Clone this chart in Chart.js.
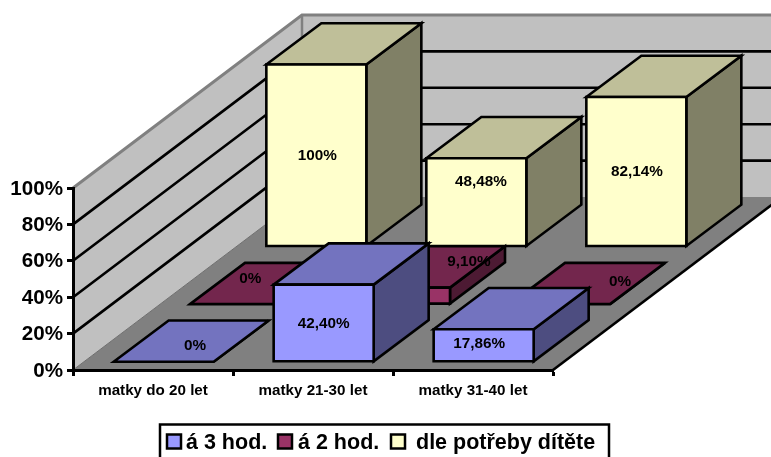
<!DOCTYPE html>
<html>
<head>
<meta charset="utf-8">
<title>Kojení</title>
<script src="https://cdn.jsdelivr.net/npm/chart.js@4"></script>
<style>
  html, body { margin: 0; padding: 0; background: #fff; }
  canvas { display: block; }
</style>
</head>
<body>
<canvas id="feedingChart" width="771" height="457"></canvas>
<script>
const categories = ['matky do 20 let', 'matky 21-30 let', 'matky 31-40 let'];
const every3Hours = [0, 42.40, 17.86];
const every2Hours = [0, 9.10, 0];
const onDemand = [100, 48.48, 82.14];
const yTicks = [0, 20, 40, 60, 80, 100];

// pseudo 3D settings, row 0 is the one closest to the viewer
const FLOOR_DEPTH = { x: 229, y: -173 };
const ROW_STEP = { x: FLOOR_DEPTH.x / 3, y: FLOOR_DEPTH.y / 3 };
const BOX_DEPTH = { x: 55, y: -41.3 };
const ROW_GAP = { x: (ROW_STEP.x - BOX_DEPTH.x) / 2, y: (ROW_STEP.y - BOX_DEPTH.y) / 2 };
const EDGE = 2.6;

const FONT_FAMILY = '"Liberation Sans", Arial, sans-serif';
const LABEL_FONT = `bold 15.3px ${FONT_FAMILY}`;
const LEGEND_FONT = `bold 21.5px ${FONT_FAMILY}`;

// labels were dragged by hand in the chart, [dx, dy] from the middle of the front face
const labelShift = [
  [[31.5, -16], [0, 1], [-4.5, -1.7]],
  [[10.2, -25.3], [69, -34], [60, -22.6]],
  [[1, 1], [4.5, -20.5], [0.5, 0]],
];

function shade(hex, factor) {
  const n = parseInt(hex.slice(1), 16);
  const c = [n >> 16, (n >> 8) & 255, n & 255].map(v => Math.round(v * factor));
  return `rgb(${c[0]},${c[1]},${c[2]})`;
}

function poly(ctx, pts, fill, stroke, width) {
  ctx.beginPath();
  pts.forEach((p, i) => (i ? ctx.lineTo(p[0], p[1]) : ctx.moveTo(p[0], p[1])));
  ctx.closePath();
  if (fill) {
    ctx.fillStyle = fill;
    ctx.fill();
  }
  if (stroke) {
    ctx.strokeStyle = stroke;
    ctx.lineWidth = width;
    ctx.lineJoin = 'miter';
    ctx.stroke();
  }
}

function line(ctx, pts, color, width) {
  ctx.beginPath();
  pts.forEach((p, i) => (i ? ctx.lineTo(p[0], p[1]) : ctx.moveTo(p[0], p[1])));
  ctx.strokeStyle = color;
  ctx.lineWidth = width;
  ctx.stroke();
}

function formatValue(v) {
  if (v === 0 || v === 100) return v + '%';
  return v.toFixed(2).replace('.', ',') + '%';
}

// walls and floor go first so the native axes land on top of them
const wallsPlugin = {
  id: 'walls',
  beforeDraw(chart) {
    const { ctx, chartArea: a, scales } = chart;
    const dx = FLOOR_DEPTH.x, dy = FLOOR_DEPTH.y;
    const gridGrey = '#808080';
    ctx.save();
    poly(ctx, [[a.left, a.bottom], [a.left, a.top], [a.left + dx, a.top + dy], [a.left + dx, a.bottom + dy]], '#c0c0c0');
    poly(ctx, [[a.left + dx, a.top + dy], [a.right + dx, a.top + dy], [a.right + dx, a.bottom + dy], [a.left + dx, a.bottom + dy]], '#c0c0c0');
    poly(ctx, [[a.left, a.bottom], [a.right, a.bottom], [a.right + dx, a.bottom + dy], [a.left + dx, a.bottom + dy]], '#808080');

    yTicks.forEach(t => {
      if (t === 0 || t === 100) return;
      const y = scales.y.getPixelForValue(t);
      line(ctx, [[a.left, y], [a.left + dx, y + dy], [a.right + dx, y + dy]], '#000', EDGE);
    });
    line(ctx, [[a.left, a.top], [a.left + dx, a.top + dy], [a.right + dx, a.top + dy]], gridGrey, 3);
    line(ctx, [[a.left + dx, a.top + dy], [a.left + dx, a.bottom + dy]], gridGrey, 2.5);
    line(ctx, [[a.left, a.bottom], [a.left + dx, a.bottom + dy]], '#6e6e6e', 1);
    line(ctx, [[a.right, a.bottom], [a.right + dx, a.bottom + dy]], '#000', EDGE);
    ctx.restore();
  },
};

// replaces the flat bar of each dataset with a box, using the bar element geometry
const boxesPlugin = {
  id: 'boxes',
  beforeDatasetDraw(chart, args) {
    const { ctx } = chart;
    const row = args.index;
    const color = chart.data.datasets[row].backgroundColor;
    const ox = ROW_GAP.x + ROW_STEP.x * row;
    const oy = ROW_GAP.y + ROW_STEP.y * row;
    ctx.save();
    args.meta.data.forEach(bar => {
      const l = bar.x - bar.width / 2 + ox;
      const r = bar.x + bar.width / 2 + ox;
      const t = bar.y + oy;
      const b = bar.base + oy;
      const ddx = BOX_DEPTH.x, ddy = BOX_DEPTH.y;
      poly(ctx, [[r, t], [r + ddx, t + ddy], [r + ddx, b + ddy], [r, b]], shade(color, 0.5), '#000', EDGE);
      poly(ctx, [[l, t], [l + ddx, t + ddy], [r + ddx, t + ddy], [r, t]], shade(color, 0.75), '#000', EDGE);
      if (b - t > 0.5) poly(ctx, [[l, t], [r, t], [r, b], [l, b]], color, '#000', EDGE);
    });
    ctx.restore();
    return false;
  },
};

const valueLabelsPlugin = {
  id: 'valueLabels',
  afterDatasetsDraw(chart) {
    const { ctx } = chart;
    ctx.save();
    ctx.font = LABEL_FONT;
    ctx.fillStyle = '#000';
    ctx.textAlign = 'center';
    ctx.textBaseline = 'middle';
    chart.data.datasets.forEach((ds, row) => {
      chart.getDatasetMeta(row).data.forEach((bar, i) => {
        const cx = bar.x + ROW_GAP.x + ROW_STEP.x * row;
        const cy = (bar.y + bar.base) / 2 + ROW_GAP.y + ROW_STEP.y * row;
        const s = labelShift[row][i];
        ctx.fillText(formatValue(ds.data[i]), cx + s[0], cy + s[1]);
      });
    });
    ctx.restore();
  },
};

// framed legend under the axis, its bottom edge runs off the canvas
const legendFramePlugin = {
  id: 'legendFrame',
  afterDraw(chart) {
    const { ctx } = chart;
    const boxX = [167, 278, 391];
    const textX = [186, 298, 416];
    const midY = 441.5;
    ctx.save();
    ctx.fillStyle = '#fff';
    ctx.strokeStyle = '#000';
    ctx.lineWidth = 2.5;
    ctx.fillRect(160, 424.5, 449, 40);
    ctx.strokeRect(160, 424.5, 449, 40);
    ctx.font = LEGEND_FONT;
    ctx.textBaseline = 'middle';
    chart.data.datasets.forEach((ds, i) => {
      ctx.fillStyle = ds.backgroundColor;
      ctx.fillRect(boxX[i], midY - 7, 14, 14);
      ctx.strokeRect(boxX[i], midY - 7, 14, 14);
      ctx.fillStyle = '#000';
      ctx.fillText(ds.label, textX[i], midY + 1.5);
    });
    ctx.restore();
  },
};

const barShape = { barPercentage: 0.625, categoryPercentage: 1, grouped: false };

new Chart(document.getElementById('feedingChart'), {
  type: 'bar',
  data: {
    labels: categories,
    datasets: [
      { label: 'á 3 hod.', data: every3Hours, backgroundColor: '#9999ff', ...barShape },
      { label: 'á 2 hod.', data: every2Hours, backgroundColor: '#993366', ...barShape },
      { label: 'dle potřeby dítěte', data: onDemand, backgroundColor: '#ffffcc', ...barShape },
    ],
  },
  options: {
    responsive: false,
    animation: false,
    devicePixelRatio: 1,
    layout: { padding: { top: 188, right: 218, left: 0, bottom: 0 } },
    plugins: {
      legend: { display: false },
      tooltip: { enabled: false },
    },
    scales: {
      x: {
        afterFit: s => { s.height = 87; },
        grid: { drawOnChartArea: false, drawTicks: true, tickLength: 6, tickColor: '#000', tickWidth: 3, offset: true },
        border: { color: '#000', width: 3 },
        ticks: {
          color: '#000',
          maxRotation: 0,
          padding: 6,
          font: { family: FONT_FAMILY, size: 15.2, weight: 'bold' },
        },
      },
      y: {
        min: 0,
        max: 100,
        afterFit: s => { s.width = 73; },
        afterBuildTicks: s => { s.ticks = yTicks.map(v => ({ value: v })); },
        grid: { drawOnChartArea: false, drawTicks: true, tickLength: 6, tickColor: '#000', tickWidth: 3 },
        border: { color: '#000', width: 3 },
        ticks: {
          color: '#000',
          padding: 4,
          labelOffset: 1,
          callback: v => v + '%',
          font: { family: FONT_FAMILY, size: 20.6, weight: 'bold' },
        },
      },
    },
  },
  plugins: [wallsPlugin, boxesPlugin, valueLabelsPlugin, legendFramePlugin],
});
</script>
</body>
</html>
